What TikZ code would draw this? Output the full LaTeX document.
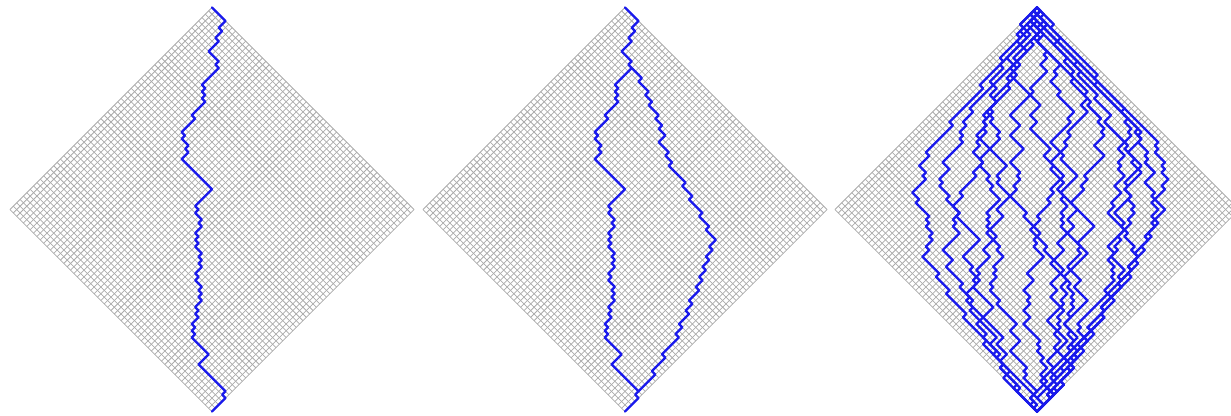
\documentclass[tikz,border=0pt]{standalone}
\usepackage{tikz}
\definecolor{pathblue}{RGB}{25,25,235}
\tikzset{
  gridline/.style={draw=black!33, line width=0.75pt},
  rw/.style={draw=pathblue, line width=2.3pt, line cap=round, line join=round},
  lat/.style={x={(3.367pt,0pt)}, y={(0pt,-3.367pt)}}
}
\newcommand\diamondgrid{%
  \foreach \i in {0,...,60}{%
    \draw[gridline] (\i,\i) -- (\i-60,\i+60);
    \draw[gridline] (-\i,\i) -- (60-\i,\i+60);
  }%
}
\newcommand\rwalk[5]{% #1 target, #2 top ramp, #3 bottom ramp, #4 band, #5 persistence
  \xdef\curU{0}%
  \xdef\prevD{1}%
  \foreach \vv in {0,...,119}{%
    \pgfmathsetmacro\ramp{min(1,min((\vv+1)/#2,(119-\vv)/#3))}%
    \pgfmathsetmacro\tgt{(#1)*\ramp}%
    \pgfmathsetmacro\rr{rnd}%
    \pgfmathsetmacro\dd{(\curU<\tgt-#4) ? 1 : ((\curU>\tgt+#4) ? -1 : ((\rr<#5) ? \prevD : -\prevD))}%
    \pgfmathsetmacro\lm{min(\vv+1,119-\vv)}%
    \pgfmathsetmacro\nwu{\curU+(\dd)}%
    \pgfmathsetmacro\nwu{(\nwu>\lm) ? \curU-1 : ((\nwu+\lm<0) ? \curU+1 : \nwu)}%
    \pgfmathsetmacro\dd{\nwu-\curU}%
    \draw[rw] (\curU,\vv) -- (\nwu,\vv+1);%
    \xdef\curU{\nwu}%
    \xdef\prevD{\dd}%
  }%
}
\begin{document}
\begin{tikzpicture}[x=1pt,y=-1pt]
\useasboundingbox (0,0) rectangle (1231,415);
\clip (0,0) rectangle (1231,415);
% ---------- diagram 1 ----------
\begin{scope}[shift={(212,7.5)}, lat]
  \diamondgrid
  \coordinate (top1) at (0,0);
  \draw[rw] (top1) \foreach \r in {4,-2,1,-2,1,-3,3,-1,1,-5,1,-1,1,-1,1,-4,1,-4,1,-1,2,-1,1,-2,9,-5,
     1,-1,2,-1,1,-2,1,-1,1,-1,2,-1,1,-1,1,-2,1,-1,2,-1,1,-1,1,-2,1,-1,1,-2,1,-1,1,-1,5,-3,8,-1,1,-4}{ -- ++({\r},{abs(\r)}) };
\end{scope}
% ---------- diagram 2 ----------
\begin{scope}[shift={(625,7.5)}, lat]
  \diamondgrid
  \coordinate (top2) at (0,0);
  \coordinate (split2) at (2,18);
  \draw[rw] (top2) \foreach \r in {4,-2,1,-2,1,-3,3,-1,1,-5,1,-1,1,-1,1,-4,1,-4,1,-1,2,-1,1,-2,9,-5,
     1,-1,2,-1,1,-2,1,-1,1,-1,2,-1,1,-1,1,-2,1,-1,2,-1,1,-1,1,-2,1,-1,1,-2,1,-1,1,-1,5,-3,8,-1,1,-4}{ -- ++({\r},{abs(\r)}) };
  \draw[rw] (split2) \foreach \r in {3,-1,3,-1,2,-1,3,-1,2,-1,2,-2,3,-1,2,-1,5,-1,3,-1,4,-1,3,-1,3,
     -2,1,-2,1,-2,1,-2,1,-2,1,-3,1,-2,1,-3,1,-2,1,-5,1,-4,1,-5}{ -- ++({\r},{abs(\r)}) };
\end{scope}
% ---------- diagram 3 ----------
\begin{scope}[shift={(1037,7.5)}, lat]
  \diamondgrid
  \pgfmathsetseed{4242}
  \rwalk{-34}{42}{50}{2.5}{0.55}
  \rwalk{-25}{34}{45}{3}{0.6}
  \rwalk{-16}{30}{40}{4}{0.6}
  \rwalk{-9}{25}{35}{4}{0.65}
  \rwalk{-3}{20}{30}{4}{0.65}
  \rwalk{3}{20}{30}{4}{0.65}
  \rwalk{9}{20}{35}{4}{0.65}
  \rwalk{15}{22}{40}{4}{0.65}
  \rwalk{21}{25}{45}{4}{0.6}
  \rwalk{27}{30}{50}{3}{0.6}
  \rwalk{33}{36}{55}{2.5}{0.55}
  \rwalk{38}{40}{60}{2}{0.5}
  \rwalk{-20}{36}{40}{4}{0.65}
  \rwalk{12}{24}{38}{4}{0.65}
  \rwalk{30}{34}{52}{3}{0.6}
\end{scope}
\end{tikzpicture}
\end{document}
